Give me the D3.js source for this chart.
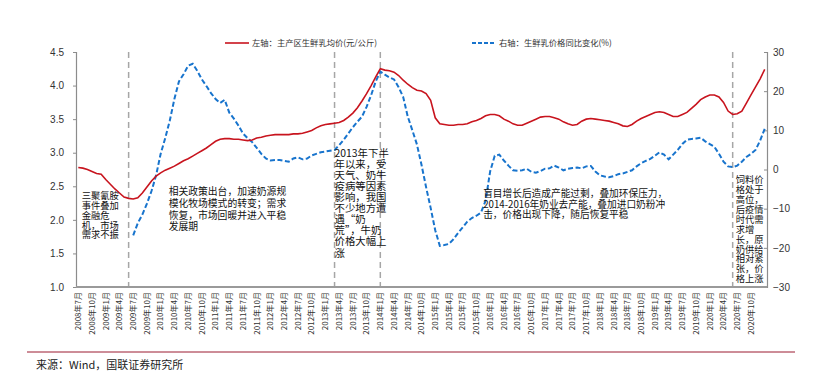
<!DOCTYPE html>
<html>
<head>
<meta charset="utf-8">
<script src="https://cdn.jsdelivr.net/npm/d3@7"></script>
<style>
  body { margin: 0; background: #fff; }
  text { font-family: "Liberation Sans", Arial, "Noto Sans CJK SC", sans-serif; }
  .cn { font-family: "Noto Sans CJK SC", sans-serif; }
</style>
</head>
<body>
<div id="chart"></div>
<script>
// monthly categories, 2008-07 .. 2021-01
const startYear = 2008, startMonth = 7, monthCount = 151;
const lastLabelIdx = 147; // 2020年10月

// 主产区生鲜乳均价 (元/公斤), left axis
const milkPrice = [
  2.78, 2.77, 2.75, 2.72, 2.69, 2.68, 2.60, 2.53, 2.46, 2.40,
  2.34, 2.32, 2.31, 2.33, 2.40, 2.49, 2.58, 2.65, 2.70, 2.74,
  2.77, 2.80, 2.84, 2.88, 2.91, 2.95, 2.99, 3.03, 3.07, 3.12,
  3.17, 3.20, 3.21, 3.21, 3.20, 3.20, 3.19, 3.18, 3.19, 3.22,
  3.23, 3.25, 3.26, 3.27, 3.27, 3.27, 3.27, 3.28, 3.28, 3.29,
  3.31, 3.33, 3.37, 3.40, 3.42, 3.43, 3.44, 3.45, 3.48, 3.53,
  3.59, 3.67, 3.77, 3.88, 4.00, 4.13, 4.25, 4.23, 4.22, 4.20,
  4.15, 4.08, 4.02, 3.97, 3.93, 3.92, 3.88, 3.78, 3.52, 3.43,
  3.42, 3.41, 3.41, 3.42, 3.42, 3.43, 3.46, 3.48, 3.51, 3.55,
  3.57, 3.57, 3.55, 3.50, 3.47, 3.43, 3.41, 3.41, 3.44, 3.47,
  3.50, 3.53, 3.54, 3.54, 3.52, 3.50, 3.46, 3.43, 3.41, 3.42,
  3.47, 3.50, 3.51, 3.50, 3.49, 3.48, 3.47, 3.45, 3.43, 3.40,
  3.39, 3.42, 3.47, 3.51, 3.54, 3.57, 3.60, 3.61, 3.60, 3.57,
  3.54, 3.54, 3.57, 3.60, 3.66, 3.72, 3.79, 3.83, 3.86, 3.86,
  3.83, 3.75, 3.62, 3.57, 3.58, 3.62, 3.74, 3.86, 3.98, 4.10, 4.24
];

// 生鲜乳价格同比变化 (%), right axis
const milkYoY = [
  null, null, null, null, null, null, null, null, null, null,
  null, null, -16.8, -13.7, -11.5, -8.7, -5.5, -1.5, 4.0, 8.0,
  12.5, 18.0, 22.5, 24.3, 26.5, 27.0, 25.2, 23.0, 21.3, 19.5,
  18.0, 17.0, 17.8, 14.5, 13.0, 11.2, 9.2, 8.0, 7.0, 5.5,
  4.0, 2.8, 2.3, 2.4, 2.4, 2.2, 2.0, 2.8, 3.1, 2.6,
  2.8, 3.6, 4.0, 4.4, 4.6, 4.8, 5.0, 6.2, 7.6, 9.2,
  10.8, 12.2, 13.5, 16.0, 19.0, 22.5, 25.0, 24.2, 23.5, 23.0,
  21.0, 18.5, 13.5, 10.0, 6.4, 1.2, -4.5, -9.8, -15.5, -19.5,
  -19.3, -19.0, -17.8, -16.2, -14.8, -13.3, -12.4, -11.8, -11.0, -8.0,
  -0.5, 3.5, 3.8, 2.3, 1.0, -0.2, -0.3, -0.2, 0.2, -0.6,
  -0.8, -0.4, 0.2, 0.3, 1.0, 0.5, -0.2, 0.2, 0.4, 0.5,
  0.3, 0.8, 0.9, -0.5, -1.5, -1.8, -2.0, -1.7, -1.2, -1.0,
  -0.6, -0.2, 0.8, 1.6, 2.2, 2.7, 3.5, 4.4, 3.8, 2.6,
  3.8, 5.0, 6.5, 7.6, 7.8, 7.9, 8.1, 7.2, 6.5, 5.8,
  4.0, 2.0, 0.8, 0.6, 1.0, 2.0, 3.2, 4.0, 5.0, 7.4, 10.4
];

const leftTicks = [1.0, 1.5, 2.0, 2.5, 3.0, 3.5, 4.0, 4.5];
const rightTicks = [-30, -20, -10, 0, 10, 20, 30];
// event markers (category index)
const eventIdx = [11, 56, 66, 143];

const notes = [
  { idx: 11, dx: -47, y: 196, lh: 9.8, fs: 9.3, lines: ["三聚氰胺", "事件叠加", "金融危", "机，市场", "需求不振"] },
  { idx: 11, dx: 40, y: 192, lh: 11.6, fs: 9.8, lines: ["相关政策出台，加速奶源规", "模化牧场模式的转变；需求", "恢复，市场回暖并进入平稳", "发展期"] },
  { idx: 56, dx: 0, y: 153, lh: 11.1, fs: 10.4, lines: ["2013年下半", "年以来，受", "天气、奶牛", "疫病等因素", "影响，我国", "不少地方遭", "遇“奶", "荒”，牛奶", "价格大幅上", "涨"] },
  { idx: 90, dx: -7, y: 194, lh: 10.5, fs: 9.7, lines: ["盲目增长后造成产能过剩，叠加环保压力，", "2014-2016年奶业去产能，叠加进口奶粉冲", "击，价格出现下降，随后恢复平稳"] },
  { idx: 143, dx: 3, y: 180, lh: 9.9, fs: 9.3, lines: ["饲料价", "格处于", "高位，", "后疫情", "时代需", "求增", "长，原", "奶供给", "相对紧", "张，价", "格上涨"] }
];

const months = d3.range(monthCount).map(i => {
  const m = startMonth - 1 + i;
  return (startYear + Math.floor(m / 12)) + "年" + (m % 12 + 1) + "月";
});

const width = 821, height = 380;
const plot = { left: 76, right: 767, top: 52, bottom: 287 };

const svg = d3.select("#chart").append("svg")
  .attr("width", width)
  .attr("height", height);

const x = d3.scaleBand()
  .domain(d3.range(monthCount))
  .range([plot.left, plot.right])
  .padding(0);
const cx = i => x(i) + x.bandwidth() / 2;

const yL = d3.scaleLinear().domain([1, 4.5]).range([plot.bottom, plot.top]);
const yR = d3.scaleLinear().domain([-30, 30]).range([plot.bottom, plot.top]);

// event dashed verticals
svg.append("g")
  .selectAll("line")
  .data(eventIdx)
  .enter().append("line")
  .attr("x1", d => cx(d))
  .attr("x2", d => cx(d))
  .attr("y1", plot.top)
  .attr("y2", plot.bottom)
  .attr("stroke", "#a6a6a6")
  .attr("stroke-width", 1.5)
  .attr("stroke-dasharray", "6,4");

// axes
const axL = svg.append("g")
  .attr("transform", "translate(" + plot.left + ",0)")
  .call(d3.axisLeft(yL).tickValues(leftTicks).tickFormat(d3.format(".1f")).tickSize(3).tickPadding(9));
const axR = svg.append("g")
  .attr("transform", "translate(" + plot.right + ",0)")
  .call(d3.axisRight(yR).tickValues(rightTicks).tickSize(-3).tickPadding(6));
[axL, axR].forEach(a => {
  a.select(".domain").attr("stroke", "#8c8c8c").attr("stroke-width", 1.2);
  a.selectAll(".tick line").attr("stroke", "#8c8c8c");
  a.selectAll("text").attr("font-size", 10).attr("fill", "#333");
});

svg.append("line")
  .attr("x1", plot.left).attr("x2", plot.right)
  .attr("y1", plot.bottom).attr("y2", plot.bottom)
  .attr("stroke", "#9a9a9a")
  .attr("stroke-width", 2);

// x labels, every quarter up to 2020年10月
svg.append("g")
  .selectAll("text")
  .data(d3.range(0, lastLabelIdx + 1, 3))
  .enter().append("text")
  .attr("class", "cn")
  .attr("transform", d => "translate(" + cx(d) + "," + (plot.bottom + 5) + ") rotate(-90)")
  .attr("text-anchor", "end")
  .attr("dy", "0.35em")
  .attr("font-size", 8)
  .attr("fill", "#333")
  .text(d => months[d]);

// series
const redLine = d3.line()
  .x((d, i) => cx(i))
  .y(d => yL(d));
const blueLine = d3.line()
  .defined(d => d !== null)
  .x((d, i) => cx(i))
  .y(d => yR(d));

svg.append("path")
  .datum(milkYoY)
  .attr("d", blueLine)
  .attr("fill", "none")
  .attr("stroke", "#1874cd")
  .attr("stroke-width", 2)
  .attr("stroke-dasharray", "5,2.5");

svg.append("path")
  .datum(milkPrice)
  .attr("d", redLine)
  .attr("fill", "none")
  .attr("stroke", "#c8141e")
  .attr("stroke-width", 1.6);

// legend
const legend = svg.append("g").attr("class", "cn");
legend.append("line")
  .attr("x1", 225).attr("x2", 249).attr("y1", 43).attr("y2", 43)
  .attr("stroke", "#c8141e").attr("stroke-width", 1.6);
legend.append("text")
  .attr("class", "cn")
  .attr("x", 252).attr("y", 43).attr("dy", "0.35em")
  .attr("font-size", 8.3).attr("fill", "#333")
  .text("左轴：主产区生鲜乳均价(元/公斤)");
legend.append("line")
  .attr("x1", 472).attr("x2", 496).attr("y1", 43).attr("y2", 43)
  .attr("stroke", "#1874cd").attr("stroke-width", 2).attr("stroke-dasharray", "4,2");
legend.append("text")
  .attr("class", "cn")
  .attr("x", 499).attr("y", 43).attr("dy", "0.35em")
  .attr("font-size", 8.3).attr("fill", "#333")
  .text("右轴：生鲜乳价格同比变化(%)");

// annotations, one text per line
notes.forEach(n => {
  svg.append("g")
    .selectAll("text")
    .data(n.lines)
    .enter().append("text")
    .attr("class", "cn")
    .attr("font-size", n.fs)
    .attr("fill", "#111")
    .attr("x", cx(n.idx) + n.dx)
    .attr("y", (d, i) => n.y + i * n.lh)
    .attr("dy", "0.35em")
    .text(d => d);
});

// footer
svg.append("line")
  .attr("x1", 27).attr("x2", 795).attr("y1", 352).attr("y2", 352)
  .attr("stroke", "#9b1b30").attr("stroke-width", 1);
svg.append("text")
  .attr("class", "cn")
  .attr("x", 36).attr("y", 365).attr("dy", "0.35em")
  .attr("font-size", 11).attr("fill", "#222")
  .text("来源：Wind，国联证券研究所");
</script>
</body>
</html>
